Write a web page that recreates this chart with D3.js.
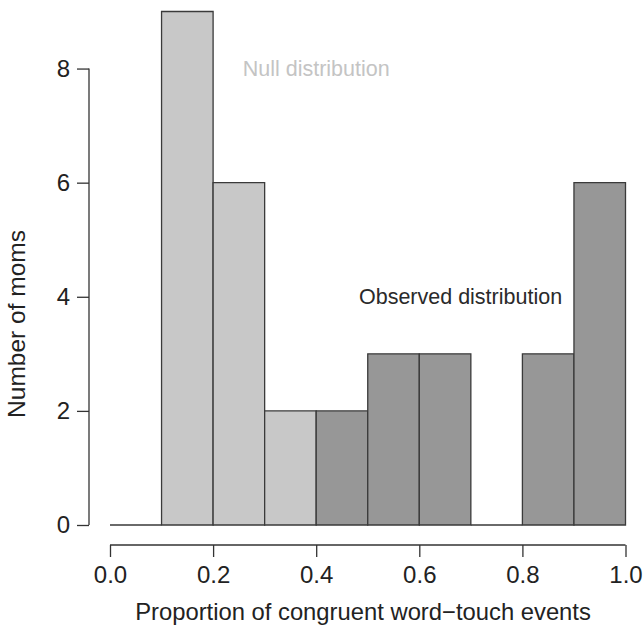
<!DOCTYPE html>
<html>
<head>
<meta charset="utf-8">
<script src="https://cdn.jsdelivr.net/npm/d3@7"></script>
<style>
  html, body { margin: 0; padding: 0; background: #fff; }
  svg { display: block; }
  text { font-family: "Liberation Sans", Arial, Helvetica, sans-serif; }
</style>
</head>
<body>
<svg id="chart" width="644" height="636"></svg>
<script>
// ---- data ----
const nullBinStarts = [0.0, 0.1, 0.2, 0.3];
const nullCounts = [0, 9, 6, 2];
const obsBinStarts = [0.4, 0.5, 0.6, 0.7, 0.8, 0.9];
const obsCounts = [2, 3, 3, 0, 3, 6];
const binWidth = 0.1;
const xTicks = [0.0, 0.2, 0.4, 0.6, 0.8, 1.0];
const yTicks = [0, 2, 4, 6, 8];
const nullLabel = "Null distribution";
const obsLabel = "Observed distribution";
const xTitle = "Proportion of congruent word\u2212touch events";
const yTitle = "Number of moms";

// ---- scales ----
const svg = d3.select("#chart");
const x = d3.scaleLinear().domain([0, 1]).range([110, 625.5]);
const y = d3.scaleLinear().domain([0, 9]).range([525, 11.5]);

function drawBins(starts, counts, fill) {
  const data = starts.map((s, i) => ({ x0: s, x1: s + binWidth, n: counts[i] }));
  svg.append("g").selectAll("path")
    .data(data)
    .join("path")
    .attr("d", d => {
      const x0 = x(d.x0), x1 = x(d.x1), y0 = y(0), y1 = y(d.n);
      return `M${x0},${y0}L${x0},${y1}L${x1},${y1}L${x1},${y0}Z`;
    })
    .attr("fill", d => d.n > 0 ? fill : "none")
    .attr("stroke", "#3a3a3a")
    .attr("stroke-width", 1.3);
}
drawBins(nullBinStarts, nullCounts, "#c8c8c8");
drawBins(obsBinStarts, obsCounts, "#979797");

// ---- y axis ----
const yAxis = d3.axisLeft(y).tickValues(yTicks).tickFormat(d3.format("d")).tickSize(12).tickPadding(7);
const gy = svg.append("g").attr("transform", "translate(89,0)").call(yAxis);
gy.select(".domain").attr("d", `M0,${y(0)}V${y(8)}`).attr("stroke", "#333").attr("stroke-width", 1.3);
gy.selectAll(".tick line").attr("stroke", "#333").attr("stroke-width", 1.3);
gy.selectAll(".tick text").attr("font-size", 24).attr("fill", "#222")
  .attr("font-family", '"Liberation Sans", Arial, sans-serif');

// ---- x axis ----
const xAxis = d3.axisBottom(x).tickValues(xTicks).tickFormat(d3.format(".1f")).tickSize(12).tickPadding(9);
const gx = svg.append("g").attr("transform", "translate(0,545)").call(xAxis);
gx.select(".domain").attr("d", `M${x(0)},0H${x(1)}`).attr("stroke", "#333").attr("stroke-width", 1.3);
gx.selectAll(".tick line").attr("stroke", "#333").attr("stroke-width", 1.3);
gx.selectAll(".tick text").attr("font-size", 24).attr("fill", "#222")
  .attr("font-family", '"Liberation Sans", Arial, sans-serif');

// ---- titles ----
svg.append("text")
  .attr("x", 363).attr("y", 620)
  .attr("text-anchor", "middle")
  .attr("font-size", 23.8).attr("fill", "#222")
  .text(xTitle);
svg.append("text")
  .attr("transform", "translate(25,324) rotate(-90)")
  .attr("text-anchor", "middle")
  .attr("font-size", 24.5).attr("fill", "#222")
  .text(yTitle);

// ---- annotations ----
svg.append("text")
  .attr("x", x(0.4)).attr("y", y(8)).attr("dy", "0.35em")
  .attr("text-anchor", "middle")
  .attr("font-size", 21.5).attr("fill", "#c4c4c4")
  .text(nullLabel);
svg.append("text")
  .attr("x", x(0.68)).attr("y", y(4)).attr("dy", "0.35em")
  .attr("text-anchor", "middle")
  .attr("font-size", 21.5).attr("fill", "#2a2a2a")
  .text(obsLabel);
</script>
</body>
</html>
